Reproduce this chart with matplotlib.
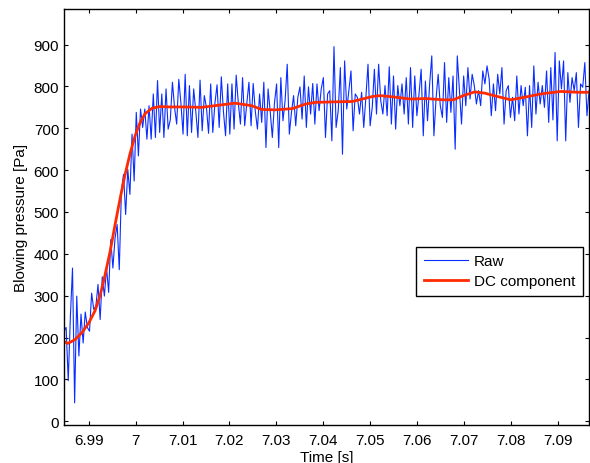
import numpy as np
import matplotlib
matplotlib.use('Agg')
import matplotlib.pyplot as plt

plt.rcParams['font.family'] = ['Liberation Sans', 'DejaVu Sans']

# raw blowing pressure samples [Pa]
raw_start = 6.9847   # time of first sample [s]
raw_rate = 2205      # samples per second
raw_pressure = [
    215, 224, 97, 250, 366, 44, 299, 156, 256, 187, 261, 224, 215, 306, 267, 275,
    327, 243, 345, 299, 367, 308, 434, 366, 437, 470, 362, 550, 590, 494, 602, 542,
    686, 574, 738, 634, 746, 702, 746, 674, 754, 674, 782, 678, 814, 690, 782, 678,
    794, 698,
    720, 810, 750, 710, 817, 760, 686, 829, 682, 802, 690, 794, 740, 678, 815, 694,
    778, 750, 688, 806, 690, 760, 804, 702, 823, 740, 682, 806, 686, 806, 698, 827,
    760, 710, 821, 706, 760, 810, 706, 807, 740, 698, 782, 714, 810, 654, 794, 740,
    678, 760, 806,
    654, 821, 718, 766, 853, 686, 738, 778, 706, 774, 799, 722, 825, 702, 799, 734,
    807, 710, 806, 742, 794, 821, 678, 782, 790, 670, 895, 702, 742, 845, 638, 861,
    746, 790, 837, 694, 782, 774, 734, 786, 702, 774, 853, 706, 750, 841, 734, 853,
    766, 734,
    802, 730, 847, 710, 825, 698, 802, 754, 806, 734, 821, 710, 845, 702, 825, 730,
    782, 841, 682, 813, 718, 806, 873, 682, 770, 829, 754, 726, 857, 714, 821, 738,
    825, 650, 873, 790, 710, 825, 754, 845, 770, 829, 802, 758, 790, 754, 837, 806,
    849,
    817, 730, 806, 742, 829, 782, 845, 710, 790, 802, 726, 774, 718, 825, 734, 802,
    754, 798, 682, 802, 702, 849, 734, 810, 758, 802, 750, 837, 714, 845, 720, 881,
    670, 861, 794, 861, 670, 833, 762, 821, 790, 833, 702, 806, 798, 857, 730, 790,
]

# DC component
dc_time = [
    6.98470, 6.98556, 6.98705, 6.98855, 6.99004, 6.99132, 6.99239, 6.99346,
    6.99453, 6.99560, 6.99667, 6.99774, 6.99880, 6.99987, 7.00094, 7.00201,
    7.00350, 7.00521, 7.00692, 7.01049, 7.01404, 7.01761, 7.02118, 7.02472,
    7.02686, 7.02972, 7.03342, 7.03626, 7.03840, 7.04197, 7.04624, 7.04838,
    7.05051, 7.05222, 7.05494, 7.05848, 7.06205, 7.06562, 7.06776, 7.06989,
    7.07231, 7.07444, 7.07643, 7.08000, 7.08284, 7.08641, 7.09068, 7.09425,
    7.09688,
]
dc_pressure = [
    190, 186, 195, 212, 236, 264, 300, 350,
    405, 470, 532, 590, 640, 682, 714, 735,
    748, 752, 751, 751, 750, 755, 760, 754,
    745, 744, 747, 758, 762, 763, 764, 770,
    776, 778, 775, 770, 771, 768, 768, 778,
    787, 784, 778, 768, 774, 782, 788, 786,
    786,
]

x_ticks = [6.99, 7.00, 7.01, 7.02, 7.03, 7.04, 7.05, 7.06, 7.07, 7.08, 7.09]
x_tick_labels = ['6.99', '7', '7.01', '7.02', '7.03', '7.04', '7.05', '7.06', '7.07', '7.08', '7.09']
y_ticks = [0, 100, 200, 300, 400, 500, 600, 700, 800, 900]


def plot_pressure():
    t = raw_start + np.arange(len(raw_pressure)) / raw_rate

    fig = plt.figure(figsize=(5.9, 4.64), dpi=100)
    ax = fig.add_axes([64 / 590, 38 / 464, 525 / 590, 416 / 464])

    ax.plot(t, raw_pressure, color='#0a2dff', lw=0.8, label='Raw')
    ax.plot(dc_time, dc_pressure, color='#ff2a00', lw=2.0, label='DC component')

    ax.set_xlim(6.9847, 7.0967)
    ax.set_ylim(-9, 985)
    ax.set_xticks(x_ticks)
    ax.set_xticklabels(x_tick_labels)
    ax.set_yticks(y_ticks)
    ax.tick_params(direction='in', top=True, right=True, length=3, width=0.8, labelsize=11)
    ax.tick_params(axis='x', pad=6)
    for s in ax.spines.values():
        s.set_linewidth(1.0)

    ax.set_xlabel('Time [s]', fontsize=11, labelpad=2)
    ax.set_ylabel('Blowing pressure [Pa]', fontsize=11)

    leg = ax.legend(loc='lower right', bbox_to_anchor=(0.989, 0.31), fontsize=11,
                    fancybox=False, framealpha=1, edgecolor='black',
                    handlelength=2.9, handletextpad=0.4, borderpad=0.5,
                    labelspacing=0.4, borderaxespad=0)
    leg.get_frame().set_linewidth(1.0)

    fig.savefig('out.png', dpi=100)


if __name__ == '__main__':
    plot_pressure()
